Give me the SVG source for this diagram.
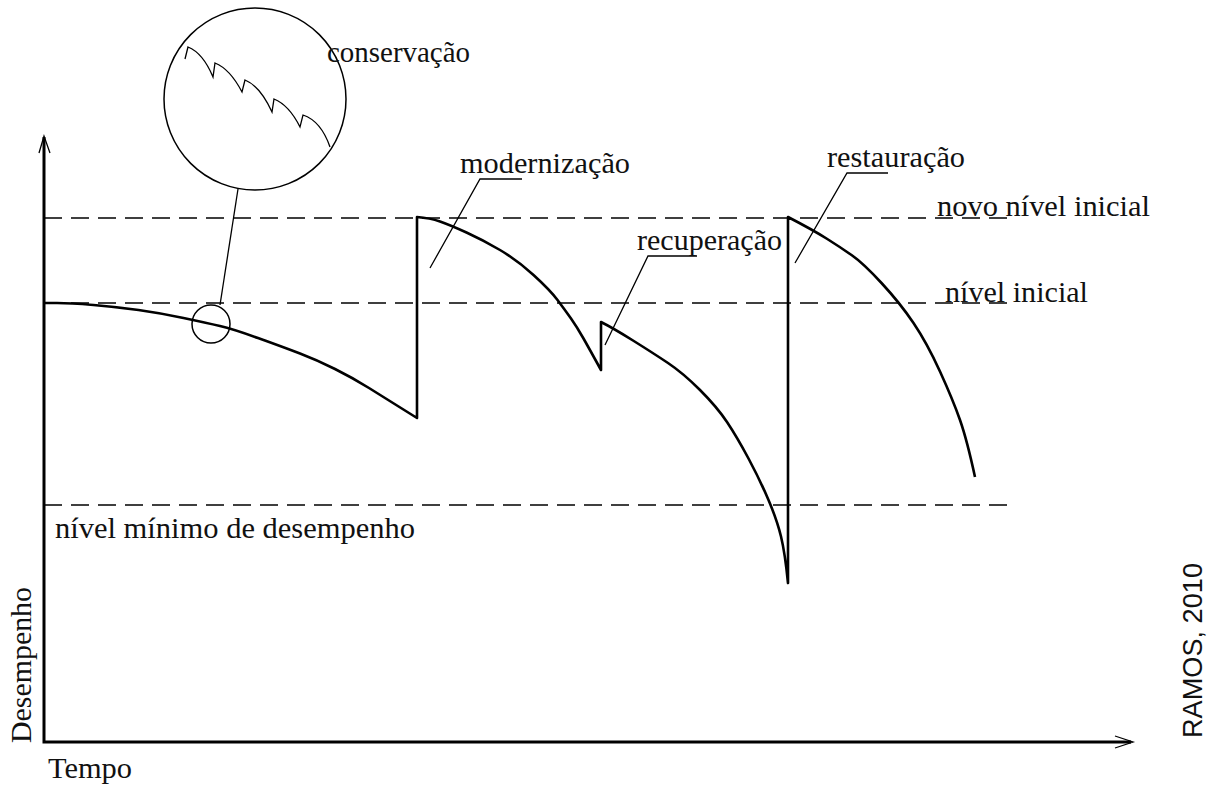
<svg xmlns="http://www.w3.org/2000/svg" width="1214" height="787" viewBox="0 0 1214 787">
  <defs>
    <style>
      .lbl { font-family: "Liberation Serif", "Times New Roman", serif; font-size: 29px; fill: #111; }
      .src { font-family: "Liberation Sans", Arial, sans-serif; font-size: 28px; fill: #111; }
      .axis { fill: none; stroke: #000; stroke-width: 3; }
      .curve { fill: none; stroke: #000; stroke-width: 2.6; stroke-linejoin: round; }
      .dash { fill: none; stroke: #000; stroke-width: 1.5; stroke-dasharray: 18 9; }
      .lead { fill: none; stroke: #000; stroke-width: 1.3; }
      .ring { fill: none; stroke: #000; stroke-width: 1.5; }
    </style>
  </defs>
  <rect width="1214" height="787" fill="#fff"/>

  <g id="axes">
    <polyline class="axis" points="44,137 44,742 1131,742"/>
    <polyline class="lead" stroke-width="2" points="39,153 44,136 50,153"/>
    <polyline class="lead" stroke-width="2" points="1115,736 1133,742 1115,748"/>
    <text class="lbl" transform="translate(31,743) rotate(-90)" textLength="156" lengthAdjust="spacingAndGlyphs">Desempenho</text>
    <text class="lbl" x="48" y="778" textLength="84" lengthAdjust="spacingAndGlyphs">Tempo</text>
  </g>

  <g id="levels">
    <line class="dash" x1="44" y1="218" x2="1013" y2="218"/>
    <line class="dash" x1="44" y1="303" x2="1013" y2="303"/>
    <line class="dash" x1="44" y1="505" x2="1015" y2="505"/>
    <text class="lbl" x="937" y="216" textLength="213" lengthAdjust="spacingAndGlyphs">novo nível inicial</text>
    <text class="lbl" x="945" y="302" textLength="143" lengthAdjust="spacingAndGlyphs">nível inicial</text>
    <text class="lbl" x="55" y="538" textLength="360" lengthAdjust="spacingAndGlyphs">nível mínimo de desempenho</text>
  </g>

  <g id="performance-curve">
    <path class="curve" d="M44,303 L57,303 Q70,303 93.5,305 Q117,307 138.5,310 Q160,313 183.5,318 Q207,323 220,326 Q233,329 258,338 Q283,347 300,353.5 Q317,360 335,369 Q353,378 369,388 Q385,398 417,418 L417,217 Q430,218 440,221.5 Q450,225 466.5,232.5 Q483,240 500,250 Q517,260 533.5,275 Q550,290 557.5,300 Q565,310 571,318.5 Q577,327 583.5,338.5 Q590,350 601,370 L601,322 Q613,328 633,340.5 Q653,353 668,363 Q683,373 700,390 Q717,407 727,422 Q737,437 748.5,458.5 Q760,480 768.5,500 Q777,520 781,536.5 Q785,553 788,583 L788,217 Q813,230 826.5,238.5 Q840,247 851.5,255 Q863,263 881.5,283 Q900,303 913.5,323 Q927,343 940,371.5 Q953,400 960,420 Q967,440 975,477"/>
  </g>

  <g id="conservacao">
    <circle class="ring" cx="211" cy="324" r="19"/>
    <line class="lead" x1="220" y1="305" x2="238" y2="189"/>
    <circle class="ring" cx="255" cy="99" r="91"/>
    <path class="lead" d="M185,59 L188,47 Q203,53 213,77 L215,63 Q230,69 242,92 L245,80 Q260,86 272,112 L274,99 Q289,105 300,127 L303,115 Q321,121 330,147"/>
    <text class="lbl" x="327" y="62" textLength="143" lengthAdjust="spacingAndGlyphs">conservação</text>
  </g>

  <g id="modernizacao">
    <polyline class="lead" points="522,179 480,179 430,268"/>
    <text class="lbl" x="460" y="173" textLength="170" lengthAdjust="spacingAndGlyphs">modernização</text>
  </g>

  <g id="recuperacao">
    <polyline class="lead" points="697,256 648,256 605,345"/>
    <text class="lbl" x="637" y="250" textLength="145" lengthAdjust="spacingAndGlyphs">recuperação</text>
  </g>

  <g id="restauracao">
    <polyline class="lead" points="888,173 847,173 795,263"/>
    <text class="lbl" x="827" y="167" textLength="138" lengthAdjust="spacingAndGlyphs">restauração</text>
  </g>

  <g id="source">
    <text class="src" transform="translate(1202,738) rotate(-90)" textLength="175" lengthAdjust="spacingAndGlyphs">RAMOS, 2010</text>
  </g>
</svg>
